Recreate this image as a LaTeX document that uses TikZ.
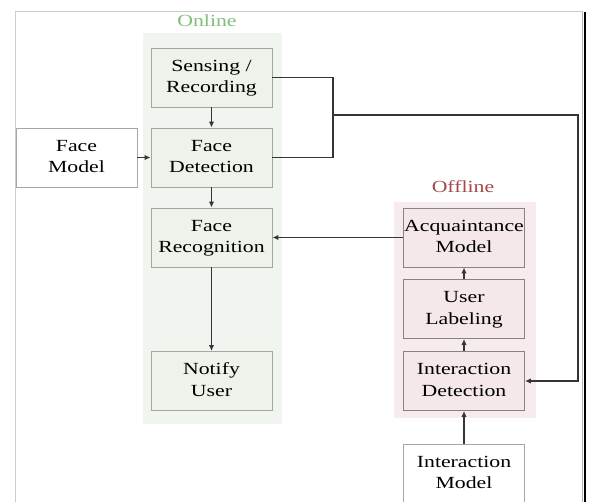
\documentclass[tikz,border=0pt]{standalone}
\usepackage{fontspec}
\setmainfont{Liberation Serif}
\usepackage{graphicx}
\usetikzlibrary{arrows.meta}
\definecolor{onpanel}{HTML}{F0F6EF}
\definecolor{onbox}{HTML}{EDF3EB}
\definecolor{onedge}{HTML}{A2A8A0}
\definecolor{offpanel}{HTML}{F6ECED}
\definecolor{offbox}{HTML}{F4E8E9}
\definecolor{offedge}{HTML}{8A8284}
\definecolor{ontext}{HTML}{7FBF7A}
\definecolor{offtext}{HTML}{A34A4C}
\definecolor{wire}{HTML}{353535}
\newcommand{\blktext}[1]{\scalebox{1.28}[1]{\begin{tabular}{@{}c@{}}#1\end{tabular}}}
\begin{document}
\begin{tikzpicture}[x=1pt,y=-1pt,
  font=\fontsize{17}{21.5}\selectfont,
  blk/.style={draw=onedge,line width=0.9pt,fill=onbox,minimum width=121pt,minimum height=59pt,inner sep=0pt},
  offblk/.style={blk,draw=offedge,fill=offbox},
  plainblk/.style={blk,draw=gray!70,fill=white},
  flow/.style={draw=wire,line width=1.2pt,-{Latex[length=6pt,width=5.5pt]}}]
\useasboundingbox(0,0)rectangle(590,502);
\clip(0,0)rectangle(590,502);
%frame
\draw[gray!40,line width=1pt](15,502)--(15,12)--(583,12);
\draw[gray!60,line width=0.6pt](582.5,12)--(582.5,502);
\draw[black,line width=1.3pt](585,12)--(585,502);
%panels
\fill[onpanel](143,33)rectangle(282,424);
\fill[offpanel](394,202)rectangle(536,418);
\node[text=ontext](online)at(207,21){\scalebox{1.28}[1]{Online}};
\node[text=offtext](offline)at(463,187){\scalebox{1.28}[1]{Offline}};
%online
\node[blk](sense)at(211.5,77.5){\blktext{Sensing /\\Recording}};
\node[blk](fdet)at(211.5,157.5){\blktext{Face\\Detection}};
\node[blk](frec)at(211.5,237.5){\blktext{Face\\Recognition}};
\node[blk](notify)at(211.5,381){\blktext{Notify\\User}};
\node[plainblk](fmodel)at(76.5,157.5){\blktext{Face\\Model}};
%offline
\node[offblk](acq)at(464,237.5){\blktext{Acquaintance\\Model}};
\node[offblk](ulabel)at(464,309){\blktext{User\\Labeling}};
\node[offblk](idet)at(464,381){\blktext{Interaction\\Detection}};
\node[plainblk](imodel)at(464,473.5){\blktext{Interaction\\Model}};
%connectors
\coordinate(jn)at(333,115);
\coordinate(rt)at(578,115);
\draw[flow](sense)--(fdet);
\draw[flow](fdet)--(frec);
\draw[flow](frec)--(notify);
\draw[flow](fmodel)--(fdet);
\draw[draw=wire,line width=1.2pt](sense.east)-|(jn)|-(fdet.east);
\draw[flow](jn)--(rt)|-(idet.east);
\draw[flow](acq)--(frec);
\draw[flow](imodel)--(idet);
\draw[flow](idet)--(ulabel);
\draw[flow](ulabel)--(acq);
\end{tikzpicture}
\end{document}
